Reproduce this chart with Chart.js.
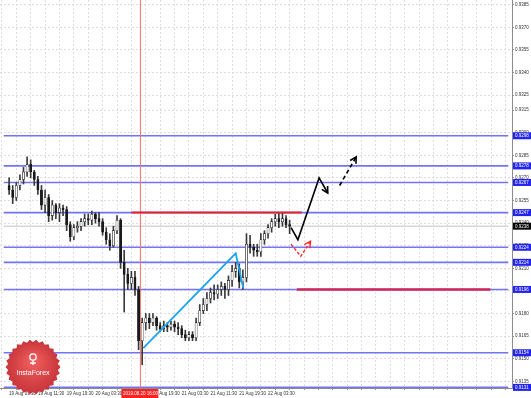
<!DOCTYPE html>
<html>
<head>
<meta charset="utf-8">
<script src="https://cdn.jsdelivr.net/npm/chart.js@4"></script>
<style>
  html, body { margin: 0; padding: 0; background: #fff; overflow: hidden; }
  #wrap { width: 531px; height: 398px; position: relative; }
</style>
</head>
<body>
<div id="wrap"><canvas id="myChart"></canvas></div>
<script>
// hours counted from 19 Aug 03:30, one candle per hour
const hours = [0,1,2,3,4,5,6,7,8,9,10,11,12,13,14,15,16,17,18,19,20,21,22,23,24,25,26,27,28,29,
  30,31,32,33,34,35,36,37,38,39,40,41,42,43,44,45,46,47,48,49,50,51,52,53,54,55,56,57,58,59,
  60,61,62,63,64,65,66,67,68,69,70,71,72,73,74,75,76,77,78];
const openP = [.9265,.9262,.9257,.9265,.9269,.9274,.9279,.9274,.9269,.9262,
  .9252,.9257,.9245,.9252,.9247,.9250,.9249,.9239,.9231,.9237,
  .9238,.9241,.9243,.9242,.9246,.9243,.9241,.9234,.9229,.9225,
  .9235,.9242,.9214,.9206,.9200,.9204,.9196,.9162,.9174,.9177,
  .9174,.9177,.9172,.9170,.9172,.9171,.9173,.9171,.9170,.9166,
  .9164,.9166,.9164,.9174,.9182,.9186,.9190,.9194,.9193,.9196,
  .9198,.9196,.9202,.9208,.9210,.9201,.9204,.9226,.9224,.9222,
  .9221,.9229,.9233,.9237,.9241,.9243,.9241,.9243,.9239];
const closeP = [.9262,.9257,.9265,.9269,.9274,.9279,.9274,.9269,.9262,.9252,
  .9257,.9245,.9252,.9247,.9250,.9249,.9239,.9231,.9237,.9238,
  .9241,.9243,.9242,.9246,.9243,.9241,.9234,.9229,.9225,.9235,
  .9242,.9214,.9206,.9200,.9204,.9196,.9162,.9174,.9177,.9174,
  .9177,.9172,.9170,.9172,.9171,.9173,.9171,.9170,.9166,.9164,
  .9166,.9164,.9174,.9182,.9186,.9190,.9194,.9193,.9196,.9198,
  .9196,.9202,.9208,.9210,.9201,.9204,.9226,.9224,.9222,.9221,
  .9229,.9233,.9237,.9241,.9243,.9241,.9243,.9239,.9238];
const highP = [.9270,.9265,.9267,.9272,.9277,.9284,.9282,.9275,.9271,.9265,
  .9262,.9259,.9255,.9253,.9253,.9252,.9251,.9241,.9239,.9241,
  .9243,.9246,.9246,.9248,.9247,.9247,.9243,.9237,.9233,.9238,
  .9245,.9243,.9222,.9210,.9208,.9208,.9198,.9177,.9180,.9180,
  .9180,.9178,.9174,.9175,.9174,.9175,.9175,.9174,.9172,.9169,
  .9168,.9168,.9177,.9186,.9190,.9194,.9197,.9199,.9199,.9201,
  .9200,.9205,.9212,.9214,.9213,.9209,.9233,.9232,.9226,.9226,
  .9233,.9235,.9239,.9243,.9246,.9247,.9247,.9245,.9242];
const lowP = [.9259,.9253,.9255,.9262,.9266,.9271,.9270,.9265,.9259,.9249,
  .9247,.9241,.9242,.9243,.9241,.9245,.9235,.9228,.9229,.9234,
  .9235,.9238,.9239,.9239,.9240,.9238,.9232,.9226,.9222,.9224,
  .9233,.9210,.9181,.9196,.9196,.9192,.9156,.9146,.9169,.9170,
  .9172,.9169,.9168,.9168,.9168,.9169,.9168,.9166,.9164,.9162,
  .9162,.9162,.9162,.9172,.9180,.9182,.9187,.9189,.9190,.9192,
  .9190,.9192,.9198,.9204,.9197,.9196,.9201,.9220,.9218,.9218,
  .9218,.9226,.9230,.9234,.9238,.9237,.9238,.9237,.9233];

// horizontal levels (blue) and current price
const levels = [0.9298, 0.9278, 0.9267, 0.9247, 0.9224, 0.9214, 0.9196, 0.9154, 0.9131];
const lastPrice = 0.9238;

// drawn objects
const cyanT = [37.3, 63.0, 65.1];
const cyanP = [0.9157, 0.9220, 0.9197];
const blackT = [78.4, 80.3, 86.2, 88.6];
const blackP = [0.9237, 0.9229, 0.9270, 0.9260];
const blackDashT = [91.9, 96.5];
const blackDashP = [0.9265, 0.9284];
const redDashT = [78.4, 81.1, 83.8];
const redDashP = [0.9226, 0.9218, 0.9228];
const redLevelT = [34, 81.4];
const redLevelP = 0.9247;
const crimsonT = [80, 133.8];
const crimsonP = 0.9196;
const markerT = 36.5;
const markerLabel = '2019.08.20 16:00';

// axes
const xMin = -0.5, xMax = 137.8;
const yMin = 0.91306, yMax = 0.93881;
const gridHours = [0,4,8,12,16,20,24,28,32,36,40,44,48,52,56,60,64,68,72,76,80,84,88,92,96,100,104,108,112,116,120,124,128,132,136];
const labelHours = [0,8,16,24,32,40,48,56,64,72];
const xTickLabels = ['19 Aug 03:30','19 Aug 11:30','19 Aug 19:30','20 Aug 03:30','20 Aug 11:30',
  '20 Aug 19:30','21 Aug 03:30','21 Aug 11:30','21 Aug 19:30','22 Aug 03:30'];
const yTicks = [0.9385,0.9370,0.9355,0.9340,0.9325,0.9315,0.9300,0.9285,0.9270,0.9255,0.9240,
  0.9225,0.9210,0.9195,0.9180,0.9165,0.9150,0.9135];

const FONT = 'Liberation Sans';

function pts(ts, ps) { return ts.map((t, i) => ({x: t, y: ps[i]})); }
function flat(ts, p) { return ts.map(t => ({x: t, y: p})); }

const datasets = [];
levels.forEach(v => {
  datasets.push({type: 'line', data: flat([xMin - 1, xMax + 1], v), borderColor: '#7373f5',
    borderWidth: 1.6, pointRadius: 0, order: 6});
});
datasets.push({type: 'line', data: flat([xMin - 1, xMax + 1], lastPrice), borderColor: '#d6d6d6',
  borderWidth: 1.5, pointRadius: 0, order: 7});
datasets.push({type: 'line', data: [{x: markerT, y: yMin - 1}, {x: markerT, y: yMax + 1}],
  borderColor: '#ff6b6b', borderWidth: 1, pointRadius: 0, order: 5});
datasets.push({type: 'bar', data: hours.map((h, i) => ({x: h, y: [lowP[i], highP[i]]})),
  backgroundColor: '#3a3a3a', barThickness: 1, grouped: false, order: 3});
datasets.push({type: 'bar', data: hours.map((h, i) => ({x: h, y: [openP[i], closeP[i]]})),
  backgroundColor: hours.map((h, i) => closeP[i] >= openP[i] ? '#ffffff' : '#1a1a1a'),
  borderColor: '#1a1a1a', borderWidth: 0.6, borderSkipped: false,
  barThickness: 2.2, grouped: false, order: 2});
datasets.push({type: 'line', data: flat(redLevelT, redLevelP), borderColor: '#e8242b',
  borderWidth: 2, pointRadius: 0, order: 1});
datasets.push({type: 'line', data: flat(crimsonT, crimsonP), borderColor: '#d0245a',
  borderWidth: 2.5, pointRadius: 0, order: 1});
datasets.push({type: 'line', data: pts(cyanT, cyanP), borderColor: '#1aa3ee',
  borderWidth: 1.8, pointRadius: 0, order: 0});
datasets.push({type: 'line', data: pts(blackT, blackP), borderColor: '#000000',
  borderWidth: 1.6, pointRadius: 0, order: 0, arrow: true});
datasets.push({type: 'line', data: pts(blackDashT, blackDashP), borderColor: '#000000',
  borderWidth: 1.6, borderDash: [4, 3], pointRadius: 0, order: 0, arrow: true});
datasets.push({type: 'line', data: pts(redDashT, redDashP), borderColor: '#ff2a2a',
  borderWidth: 1.4, borderDash: [3, 2], pointRadius: 0, order: 0, arrow: true});

const overlay = {
  id: 'overlay',
  afterDatasetsDraw(chart) {
    const ctx = chart.ctx;
    // arrow heads at the end of marked lines
    chart.data.datasets.forEach((ds, i) => {
      if (!ds.arrow) return;
      const pts = chart.getDatasetMeta(i).data;
      const a = pts[pts.length - 2], b = pts[pts.length - 1];
      const ang = Math.atan2(b.y - a.y, b.x - a.x);
      ctx.save();
      ctx.strokeStyle = ds.borderColor;
      ctx.lineWidth = ds.borderWidth;
      ctx.beginPath();
      ctx.moveTo(b.x - 7 * Math.cos(ang - 0.5), b.y - 7 * Math.sin(ang - 0.5));
      ctx.lineTo(b.x, b.y);
      ctx.lineTo(b.x - 7 * Math.cos(ang + 0.5), b.y - 7 * Math.sin(ang + 0.5));
      ctx.stroke();
      ctx.restore();
    });
  },
  afterDraw(chart) {
    const ctx = chart.ctx, xs = chart.scales.x, ys = chart.scales.y, area = chart.chartArea;
    ctx.save();
    ctx.font = '4.5px "' + FONT + '"';
    ctx.textBaseline = 'middle';
    ctx.textAlign = 'left';
    // price boxes on the right axis
    const box = (v, bg) => {
      const y = ys.getPixelForValue(v);
      ctx.fillStyle = bg;
      ctx.fillRect(area.right + 1, y - 3.5, 18, 7);
      ctx.fillStyle = '#ffffff';
      ctx.fillText(v.toFixed(4), area.right + 3, y + 0.3);
    };
    levels.forEach(v => box(v, '#2424f2'));
    box(lastPrice, '#000000');
    // marker time box on the bottom axis
    const mx = xs.getPixelForValue(markerT);
    ctx.fillStyle = '#ff2020';
    ctx.fillRect(mx - 19, area.bottom + 1, 37, 9);
    ctx.fillStyle = '#ffffff';
    ctx.fillText(markerLabel, mx - 17.5, area.bottom + 5.5);
    // logo
    const cx = 33, cy = 367, n = 26;
    ctx.beginPath();
    for (let k = 0; k < n * 2; k++) {
      const r = k % 2 ? 25 : 27.5;
      const a = Math.PI * k / n;
      ctx.lineTo(cx + r * Math.cos(a), cy + r * Math.sin(a));
    }
    ctx.closePath();
    const g = ctx.createRadialGradient(cx, cy - 6, 4, cx, cy, 27);
    g.addColorStop(0, '#ec5a5a');
    g.addColorStop(1, '#c7343a');
    ctx.fillStyle = g;
    ctx.fill();
    ctx.fillStyle = '#ffffff';
    ctx.strokeStyle = '#ffffff';
    ctx.lineWidth = 1.3;
    ctx.beginPath();
    ctx.arc(cx, cy - 10, 3.2, 0, Math.PI * 2);
    ctx.stroke();
    ctx.beginPath();
    ctx.moveTo(cx, cy - 7); ctx.lineTo(cx, cy - 2);
    ctx.moveTo(cx - 3, cy - 4); ctx.lineTo(cx + 3, cy - 4);
    ctx.stroke();
    ctx.font = '7px "' + FONT + '"';
    ctx.textAlign = 'center';
    ctx.fillText('InstaForex', cx, cy + 6);
    ctx.restore();
  }
};

const ctx = document.getElementById('myChart');
const myChart = new Chart(ctx, {
  type: 'bar',
  data: { datasets: datasets },
  options: {
    responsive: true,
    maintainAspectRatio: false,
    animation: false,
    layout: { padding: 0 },
    plugins: { legend: { display: false }, tooltip: { enabled: false } },
    scales: {
      x: {
        type: 'linear',
        min: xMin,
        max: xMax,
        afterBuildTicks: s => { s.ticks = gridHours.map(v => ({value: v})); },
        afterFit: s => { s.height = 10; s.paddingLeft = 0; s.paddingRight = 0; },
        grid: { color: '#d6d6d6', lineWidth: 0.8, tickLength: 2, tickColor: '#777' },
        border: { display: true, color: '#8c8c8c', width: 1, dash: [2, 2] },
        ticks: {
          autoSkip: false, maxRotation: 0, align: 'start', padding: 1,
          font: { family: FONT, size: 4.5 }, color: '#333',
          callback: v => { const k = labelHours.indexOf(v); return k >= 0 ? xTickLabels[k] : ''; }
        }
      },
      y: {
        type: 'linear',
        position: 'right',
        min: yMin,
        max: yMax,
        afterBuildTicks: s => { s.ticks = yTicks.map(v => ({value: v})); },
        afterFit: s => { s.width = 19; s.paddingTop = 0; s.paddingBottom = 0; },
        grid: { color: '#d6d6d6', lineWidth: 0.8, tickLength: 2, tickColor: '#777' },
        border: { display: true, color: '#8c8c8c', width: 1, dash: [2, 2] },
        ticks: {
          padding: 1, font: { family: FONT, size: 4.5 }, color: '#333',
          callback: v => v.toFixed(4)
        }
      }
    }
  },
  plugins: [overlay]
});
</script>
</body>
</html>
